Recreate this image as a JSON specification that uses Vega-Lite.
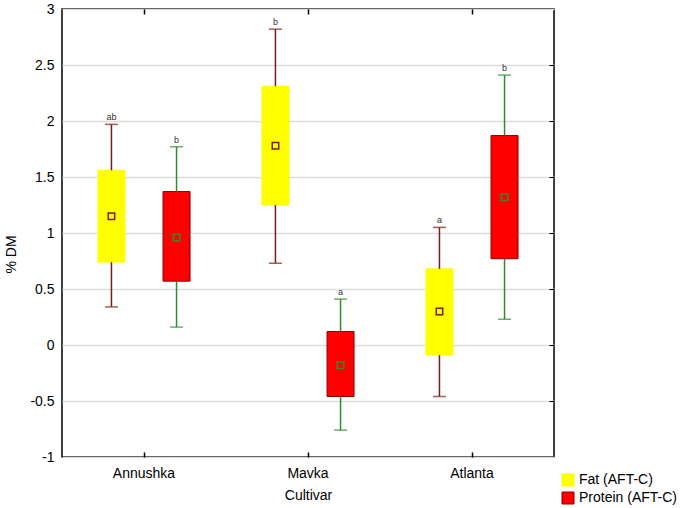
{
  "$schema": "https://vega.github.io/schema/vega-lite/v6.json",
  "autosize": {"type": "none"},
  "padding": {"left": 62, "top": 9, "right": 126, "bottom": 51},
  "width": 492,
  "height": 448,
  "background": "white",
  "config": {
    "font": "Liberation Sans",
    "view": {"stroke": "black", "strokeWidth": 1.5},
    "legend": {"labelFontSize": 14, "labelColor": "black", "symbolType": "square", "symbolSize": 144, "symbolStrokeWidth": 1, "rowPadding": 2, "labelOffset": 4}
  },
  "data": {
    "values": [
      {"cultivar": "Annushka", "series": "Fat (AFT-C)", "lo": 0.34, "q1": 0.74, "mean": 1.15, "q3": 1.56, "hi": 1.97, "letter": "ab"},
      {"cultivar": "Annushka", "series": "Protein (AFT-C)", "lo": 0.16, "q1": 0.57, "mean": 0.96, "q3": 1.37, "hi": 1.77, "letter": "b"},
      {"cultivar": "Mavka", "series": "Fat (AFT-C)", "lo": 0.73, "q1": 1.25, "mean": 1.78, "q3": 2.31, "hi": 2.82, "letter": "b"},
      {"cultivar": "Mavka", "series": "Protein (AFT-C)", "lo": -0.76, "q1": -0.46, "mean": -0.18, "q3": 0.12, "hi": 0.41, "letter": "a"},
      {"cultivar": "Atlanta", "series": "Fat (AFT-C)", "lo": -0.46, "q1": -0.09, "mean": 0.3, "q3": 0.68, "hi": 1.05, "letter": "a"},
      {"cultivar": "Atlanta", "series": "Protein (AFT-C)", "lo": 0.23, "q1": 0.77, "mean": 1.32, "q3": 1.87, "hi": 2.41, "letter": "b"}
    ]
  },
  "resolve": {"axis": {"x": "independent", "y": "independent"}},
  "layer": [
    {
      "mark": {"type": "bar", "width": 27, "strokeWidth": 1},
      "encoding": {
        "x": {
          "field": "cultivar", "type": "nominal", "sort": ["Annushka", "Mavka", "Atlanta"],
          "scale": {"paddingInner": 0, "paddingOuter": 0},
          "axis": {"title": "Cultivar", "titleFontSize": 14, "titleFontWeight": "normal", "titlePadding": 8, "labelFontSize": 14, "labelAngle": 0, "labelPadding": 9, "labelColor": "black", "ticks": false, "domain": false}
        },
        "xOffset": {
          "field": "series", "type": "nominal",
          "scale": {"paddingInner": 0, "paddingOuter": 0.26}
        },
        "y": {
          "field": "q1", "type": "quantitative",
          "scale": {"domain": [-1, 3], "nice": false},
          "axis": {"title": "% DM", "titleFontSize": 14, "titleFontWeight": "normal", "titlePadding": 11, "titleY": 245, "labelFontSize": 14, "labelColor": "black", "labelPadding": 8, "values": [-1, -0.5, 0, 0.5, 1, 1.5, 2, 2.5, 3], "labelExpr": "datum.value", "ticks": false, "domain": false, "grid": true, "gridColor": "#dcdcdc", "gridWidth": 1.5}
        },
        "y2": {"field": "q3"},
        "fill": {
          "field": "series", "type": "nominal",
          "scale": {"domain": ["Fat (AFT-C)", "Protein (AFT-C)"], "range": ["#FFFF00", "#FF0000"]},
          "legend": {"title": null, "orient": "none", "legendX": 499, "legendY": 464}
        },
        "stroke": {
          "field": "series", "type": "nominal",
          "scale": {"domain": ["Fat (AFT-C)", "Protein (AFT-C)"], "range": ["#FFFF00", "#8B0000"]},
          "legend": {"title": null, "orient": "none", "legendX": 499, "legendY": 464}
        }
      }
    },
    {
      "mark": {"type": "rule", "strokeWidth": 1.5},
      "encoding": {
        "x": {
          "field": "cultivar", "type": "nominal", "sort": ["Annushka", "Mavka", "Atlanta"],
          "axis": {"orient": "top", "title": null, "labels": false, "domain": false, "ticks": true, "tickSize": -5, "tickColor": "black", "tickWidth": 1.5}
        },
        "xOffset": {"field": "series", "type": "nominal"},
        "y": {
          "field": "hi", "type": "quantitative",
          "axis": {"orient": "right", "title": null, "labels": false, "domain": false, "grid": false, "ticks": true, "tickSize": -5, "tickColor": "black", "tickWidth": 1, "values": [-0.5, 0, 0.5, 1, 1.5, 2, 2.5]}
        },
        "y2": {"field": "q3"},
        "color": {
          "field": "series", "type": "nominal",
          "scale": {"domain": ["Fat (AFT-C)", "Protein (AFT-C)"], "range": ["#7F1A1A", "#2E8B2E"]},
          "legend": null
        }
      }
    },
    {
      "mark": {"type": "rule", "strokeWidth": 1.5},
      "encoding": {
        "x": {"field": "cultivar", "type": "nominal", "sort": ["Annushka", "Mavka", "Atlanta"], "axis": null},
        "xOffset": {"field": "series", "type": "nominal"},
        "y": {"field": "lo", "type": "quantitative", "axis": null},
        "y2": {"field": "q1"},
        "color": {"field": "series", "type": "nominal", "legend": null}
      }
    },
    {
      "mark": {"type": "tick", "size": 13, "thickness": 1.5},
      "encoding": {
        "x": {
          "field": "cultivar", "type": "nominal", "sort": ["Annushka", "Mavka", "Atlanta"],
          "axis": {"orient": "bottom", "title": null, "labels": false, "domain": false, "ticks": true, "tickSize": -5, "tickColor": "black", "tickWidth": 1.5}
        },
        "xOffset": {"field": "series", "type": "nominal"},
        "y": {"field": "hi", "type": "quantitative", "axis": null},
        "color": {"field": "series", "type": "nominal", "legend": null}
      }
    },
    {
      "mark": {"type": "tick", "size": 13, "thickness": 1.5},
      "encoding": {
        "x": {"field": "cultivar", "type": "nominal", "sort": ["Annushka", "Mavka", "Atlanta"], "axis": null},
        "xOffset": {"field": "series", "type": "nominal"},
        "y": {"field": "lo", "type": "quantitative", "axis": null},
        "color": {"field": "series", "type": "nominal", "legend": null}
      }
    },
    {
      "mark": {"type": "point", "shape": "square", "size": 42, "filled": false, "strokeWidth": 1.5, "opacity": 1},
      "encoding": {
        "x": {"field": "cultivar", "type": "nominal", "sort": ["Annushka", "Mavka", "Atlanta"], "axis": null},
        "xOffset": {"field": "series", "type": "nominal"},
        "y": {"field": "mean", "type": "quantitative", "axis": null},
        "color": {"field": "series", "type": "nominal", "legend": null},
        "fill": {"field": "series", "type": "nominal", "legend": null}
      }
    },
    {
      "mark": {"type": "text", "baseline": "bottom", "dy": -2, "fontSize": 9, "color": "#333333"},
      "encoding": {
        "x": {"field": "cultivar", "type": "nominal", "sort": ["Annushka", "Mavka", "Atlanta"], "axis": null},
        "xOffset": {"field": "series", "type": "nominal"},
        "y": {"field": "hi", "type": "quantitative", "axis": null},
        "text": {"field": "letter"}
      }
    }
  ]
}
